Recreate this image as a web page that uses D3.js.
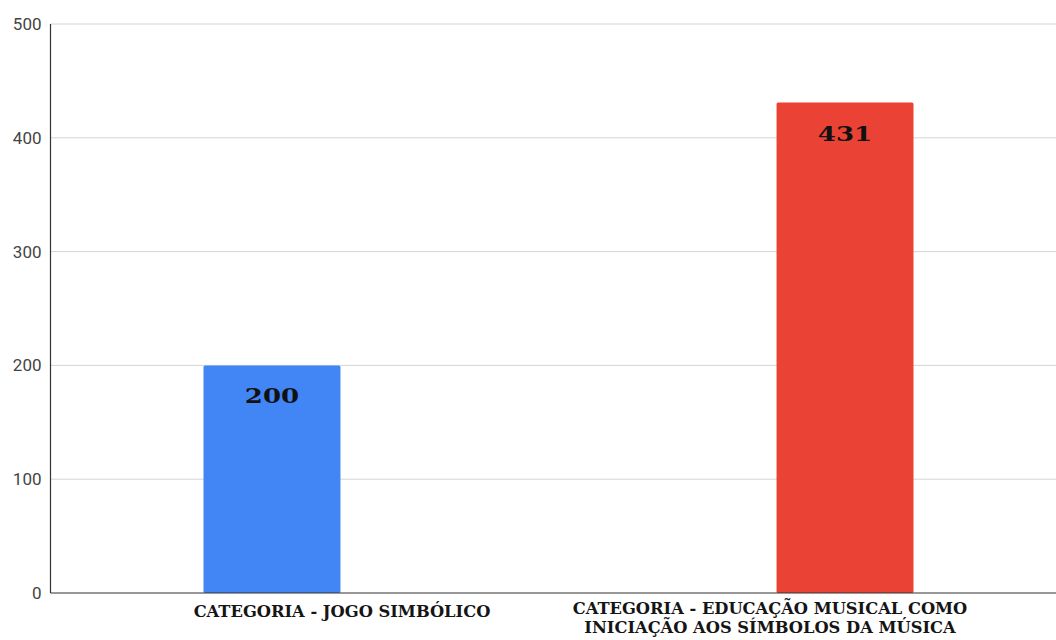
<!DOCTYPE html>
<html>
<head>
<meta charset="utf-8">
<script src="https://cdn.jsdelivr.net/npm/d3@7"></script>
<style>
  html, body { margin: 0; padding: 0; background: #fff; }
  svg { display: block; }
</style>
</head>
<body>
<svg id="chart" width="1056" height="640"></svg>
<script>
// Data
const categories = [
  ["CATEGORIA - JOGO SIMBÓLICO"],
  ["CATEGORIA - EDUCAÇÃO MUSICAL COMO", "INICIAÇÃO AOS SÍMBOLOS DA MÚSICA"]
];
const values = [200, 431];
const barColors = ["#4285f4", "#ea4335"];
const yTicks = [0, 100, 200, 300, 400, 500];

const svg = d3.select("#chart");
const margin = { left: 50.5, right: 1056, top: 24, bottom: 593 };

const y = d3.scaleLinear().domain([0, 500]).range([margin.bottom, margin.top]);
const x = d3.scaleBand()
  .domain(d3.range(values.length))
  .range([margin.left, 1066.5])
  .paddingInner(0.761)
  .paddingOuter(0.267);
// category labels sit on their own, narrower spacing
const xLabel = d3.scalePoint()
  .domain(d3.range(values.length))
  .range([342, 770]);

// Gridlines
svg.append("g")
  .selectAll("line")
  .data(yTicks.filter(d => d > 0))
  .join("line")
  .attr("x1", margin.left).attr("x2", margin.right)
  .attr("y1", d => y(d)).attr("y2", d => y(d))
  .attr("stroke", "#d4d4d4").attr("stroke-width", 1);

// Y axis tick labels
const yAxis = d3.axisLeft(y).tickValues(yTicks).tickSize(0).tickPadding(9);
const gy = svg.append("g").attr("transform", `translate(${margin.left},0)`).call(yAxis);
gy.select(".domain").remove();
gy.selectAll("text")
  .attr("font-family", "Roboto, 'Liberation Sans', sans-serif")
  .attr("font-size", 17)
  .attr("fill", "#444");

// Bars
svg.append("g")
  .selectAll("rect")
  .data(values)
  .join("rect")
  .attr("x", (d, i) => x(i))
  .attr("width", x.bandwidth())
  .attr("y", d => y(d))
  .attr("height", d => y(0) - y(d))
  .attr("rx", 1.5)
  .attr("fill", (d, i) => barColors[i]);

// Value labels inside bars (a wide, low serif face)
svg.append("g")
  .selectAll("text")
  .data(values)
  .join("text")
  .attr("x", (d, i) => x(i) + x.bandwidth() / 2)
  .attr("y", d => y(d) + 38)
  .attr("text-anchor", "middle")
  .attr("font-family", "'DejaVu Serif', serif")
  .attr("font-weight", "bold")
  .attr("font-size", 20)
  .attr("fill", "#111")
  .text(d => d)
  .each(function () {
    const w = this.getComputedTextLength();
    d3.select(this).attr("textLength", w * 1.3).attr("lengthAdjust", "spacingAndGlyphs");
  });

// Axis lines
svg.append("line")
  .attr("x1", margin.left).attr("x2", margin.left)
  .attr("y1", margin.top).attr("y2", margin.bottom)
  .attr("stroke", "#333").attr("stroke-width", 1.2);
svg.append("line")
  .attr("x1", margin.left).attr("x2", margin.right)
  .attr("y1", margin.bottom).attr("y2", margin.bottom)
  .attr("stroke", "#333").attr("stroke-width", 1.2);

// Category labels
const cat = svg.append("g")
  .selectAll("text")
  .data(categories)
  .join("text")
  .attr("x", (d, i) => xLabel(i))
  .attr("y", d => d.length > 1 ? 614 : 617)
  .attr("text-anchor", "middle")
  .attr("font-family", "'DejaVu Serif', serif")
  .attr("font-weight", "bold")
  .attr("font-size", 16.3)
  .attr("fill", "#151515");
cat.selectAll("tspan")
  .data(d => d)
  .join("tspan")
  .attr("x", function () { return d3.select(this.parentNode).attr("x"); })
  .attr("dy", (d, i) => i === 0 ? 0 : 19)
  .text(d => d);
</script>
</body>
</html>
